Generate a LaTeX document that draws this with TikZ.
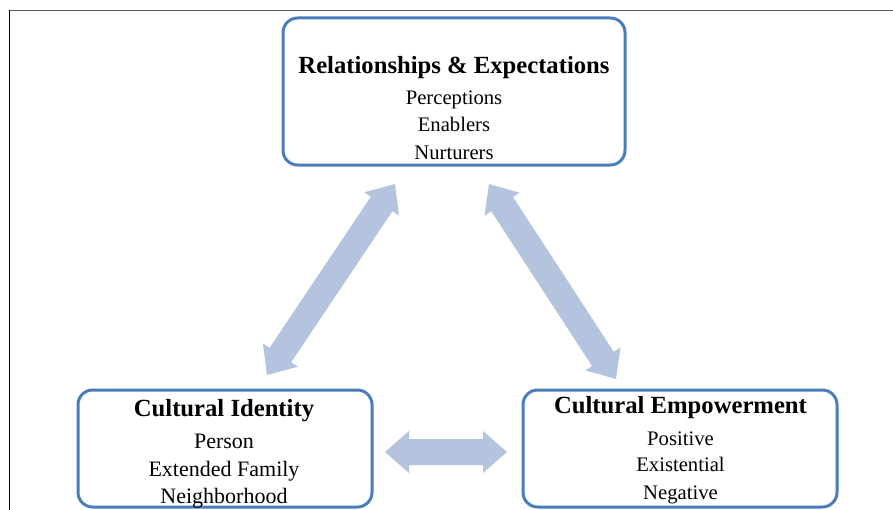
\documentclass[tikz,border=0pt]{standalone}
\usepackage{fontspec}
\setmainfont{Liberation Serif}
\usetikzlibrary{calc}
\definecolor{boxblue}{RGB}{74,126,187}
\definecolor{arrblue}{RGB}{180,196,222}
\definecolor{framegray}{RGB}{90,90,90}
\newcommand\blockarr[2]{%
  \fill[arrblue] (#1)
  -- ($(#1)!18pt!(#2)!15.75pt!90:(#2)$)
  -- ($(#1)!18pt!(#2)!9.75pt!90:(#2)$)
  -- ($(#2)!18pt!(#1)!9.75pt!-90:(#1)$)
  -- ($(#2)!18pt!(#1)!15.75pt!-90:(#1)$)
  -- (#2)
  -- ($(#2)!18pt!(#1)!15.75pt!90:(#1)$)
  -- ($(#2)!18pt!(#1)!9.75pt!90:(#1)$)
  -- ($(#1)!18pt!(#2)!9.75pt!-90:(#2)$)
  -- ($(#1)!18pt!(#2)!15.75pt!-90:(#2)$)
  -- cycle;}
\tikzset{
  topic/.style={draw=boxblue, line width=2.25pt, rounded corners=11pt,
    rectangle, inner sep=0pt, fill=white},
  title/.style={anchor=base, inner sep=0pt, font=\fontsize{18.5pt}{22pt}\selectfont\bfseries},
  item/.style={anchor=base, inner sep=0pt, font=\fontsize{15.5pt}{19pt}\selectfont},
  bigitem/.style={item, font=\fontsize{16.5pt}{20pt}\selectfont},
}
\begin{document}
\begin{tikzpicture}[x=0.75pt,y=-0.75pt]
\useasboundingbox (0,0) rectangle (893,510);
\fill[white] (0,0) rectangle (893,510);
% frame
\draw[framegray, line width=1.3pt] (9,10.5) -- (893,10.5);
\draw[black, line width=0.75pt] (9.5,10) -- (9.5,510);
% boxes
\node[topic, minimum width=256.5pt, minimum height=110.25pt] (rel) at (454,91.5) {};
\node[topic, minimum width=220.5pt, minimum height=87.75pt] (ci) at (225,448.5) {};
\node[topic, minimum width=235.5pt, minimum height=87.75pt] (ce) at (680,448.5) {};
% texts
\node[title] (relt) at (454,73.3) {Relationships \& Expectations};
\node[item] (rel1) at (454,104) {Perceptions};
\node[item] (rel2) at (454,131.7) {Enablers};
\node[item] (rel3) at (454,159) {Nurturers};
\node[title] (cit) at (224,416) {Cultural Identity};
\node[bigitem] (ci1) at (224,448.3) {Person};
\node[bigitem] (ci2) at (224,476.7) {Extended Family};
\node[bigitem] (ci3) at (224,503.3) {Neighborhood};
\node[title] (cet) at (680.5,413.3) {Cultural Empowerment};
\node[item] (ce1) at (680.5,445) {Positive};
\node[item] (ce2) at (680.5,471.7) {Existential};
\node[item] (ce3) at (680.5,499.3) {Negative};
% arrow end points
\coordinate (l1) at (267,375);
\coordinate (l2) at (395,184);
\coordinate (r1) at (489,184);
\coordinate (r2) at (616,379);
\coordinate (h1) at (385,452);
\coordinate (h2) at (507,452);
\blockarr{l1}{l2}
\blockarr{r1}{r2}
\blockarr{h1}{h2}
\end{tikzpicture}
\end{document}
